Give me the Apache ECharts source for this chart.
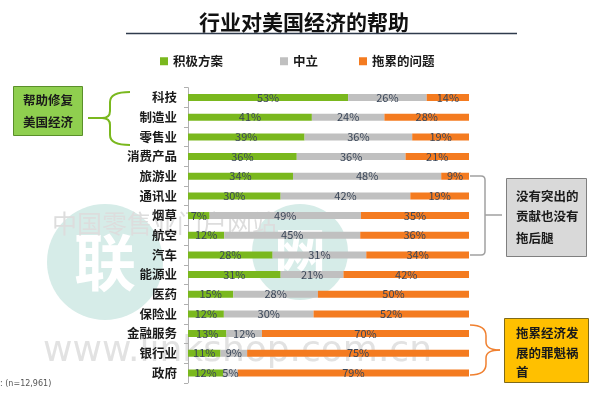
<!DOCTYPE html>
<html>
<head>
<meta charset="utf-8">
<script src="https://cdn.jsdelivr.net/npm/echarts@6/dist/echarts.min.js"></script>
<style>
html,body{margin:0;padding:0;background:#fff;}
#chart{width:600px;height:395px;}
</style>
</head>
<body>
<div id="chart"></div>
<script>
var categories = ['科技','制造业','零售业','消费产品','旅游业','通讯业','烟草','航空','汽车','能源业','医药','保险业','金融服务','银行业','政府'];
var positive = [53,41,39,36,34,30,7,12,28,31,15,12,13,11,12];
var neutral  = [26,24,36,36,48,42,49,45,31,21,28,30,12,9,5];
var negative = [14,28,19,21,9,19,35,36,34,42,50,52,70,75,79];
var seriesNames = ['积极方案','中立','拖累的问题'];

var raw = [positive, neutral, negative];
var totals = categories.map(function(c, i){ return positive[i] + neutral[i] + negative[i]; });
var colors = ['#7ab81e','#c0c0c0','#f47b20'];
var FONT = '"Noto Sans CJK SC","Noto Sans",sans-serif';

var chart = echarts.init(document.getElementById('chart'), null, {renderer:'canvas'});

var series = raw.map(function(arr, si){
  return {
    name: seriesNames[si],
    type: 'bar',
    stack: 'total',
    barWidth: 7,
    itemStyle: {color: colors[si]},
    data: arr.map(function(v, i){ return v / totals[i] * 100; }),
    label: {
      show: true,
      position: 'inside',
      color: '#3a4658',
      fontSize: 11,
      fontFamily: FONT,
      formatter: function(p){ return raw[si][p.dataIndex] + '%'; }
    }
  };
});

function legendItem(name, left){
  return {
    data: [name],
    left: left,
    top: 55,
    padding: 0,
    icon: 'rect',
    itemWidth: 8,
    itemHeight: 8,
    selectedMode: false,
    textStyle: {fontSize: 12.5, fontWeight: 'bold', color: '#1a1a1a', fontFamily: FONT}
  };
}

function seg(x1, y1, x2, y2, color, w){
  return {type:'line', shape:{x1:x1, y1:y1, x2:x2, y2:y2}, style:{stroke:color, lineWidth:w}};
}
function curve(x1, y1, cx, cy, x2, y2, color, w){
  return {type:'bezierCurve', shape:{x1:x1, y1:y1, x2:x2, y2:y2, cpx1:cx, cpy1:cy}, style:{stroke:color, lineWidth:w, fill:null}};
}
function txt(x, y, s, align){
  return {type:'text', x:x, y:y, style:{text:s, fill:'#1a1a1a', font:'bold 12.5px ' + FONT, align:align || 'left', verticalAlign:'middle'}};
}

var G = '#7ab81e', GR = '#a0a0a0', OR = '#f08030';
var graphics = [
  // watermark
  {type:'circle', z:-10, shape:{cx:105, cy:262, r:58}, style:{fill:'#d6ece8'}},
  {type:'text', z:-9, x:105, y:262, style:{text:'联', fill:'#ffffff', font:'bold 62px ' + FONT, align:'center', verticalAlign:'middle'}},
  {type:'circle', z:-10, shape:{cx:300, cy:252, r:48}, style:{fill:'#d6ece8'}},
  {type:'text', z:-9, x:300, y:252, style:{text:'网', fill:'#ffffff', font:'bold 52px ' + FONT, align:'center', verticalAlign:'middle'}},
  {type:'text', z:-9, x:52, y:223, style:{text:'中国零售业门户网站', fill:'#dddddd', font:'25px ' + FONT, verticalAlign:'middle'}},
  {type:'text', z:-9, x:43, y:352, style:{text:'www.linkshop.com.cn', fill:'#e2e2e2', font:'36px "DejaVu Sans",sans-serif', verticalAlign:'middle'}},
  // title
  {type:'text', x:304, y:22, style:{text:'行业对美国经济的帮助', fill:'#111', font:'bold 21px ' + FONT, align:'center', verticalAlign:'middle'}},
  seg(126, 33.5, 517, 33.5, '#2f3b4c', 1.5),
  // green box and brace
  {type:'rect', shape:{x:13.5, y:86.5, width:69, height:49}, style:{fill:'#8fcf4f', stroke:'#5a8f2a', lineWidth:1}},
  txt(48, 100, '帮助修复', 'center'),
  txt(48, 122, '美国经济', 'center'),
  curve(130, 92, 110, 92, 110, 102, G, 2),
  seg(110, 102, 110, 111, G, 2),
  curve(110, 111, 110, 118, 102, 118, G, 2),
  seg(102, 118, 88, 118, G, 2),
  curve(102, 118, 110, 118, 110, 125, G, 2),
  seg(110, 125, 110, 135, G, 2),
  curve(110, 135, 110, 145, 130, 145, G, 2),
  // gray box and bracket
  {type:'rect', shape:{x:506.5, y:178.5, width:80, height:78}, style:{fill:'#d9d9d9', stroke:'#7f7f7f', lineWidth:1}},
  txt(516, 196, '没有突出的'),
  txt(516, 216, '贡献也没有'),
  txt(516, 238, '拖后腿'),
  seg(470, 176, 481, 176, GR, 1.5),
  curve(481, 176, 485, 176, 485, 180, GR, 1.5),
  seg(485, 180, 485, 251, GR, 1.5),
  curve(485, 251, 485, 255, 481, 255, GR, 1.5),
  seg(481, 255, 470, 255, GR, 1.5),
  seg(485, 215, 502, 215, GR, 1.5),
  // orange box and brace
  {type:'rect', shape:{x:504.5, y:318.5, width:84, height:64}, style:{fill:'#ffc000', stroke:'#7f6a1a', lineWidth:1}},
  txt(516, 333, '拖累经济发'),
  txt(516, 353, '展的罪魁祸'),
  txt(516, 372, '首'),
  curve(470, 325, 486, 325, 486, 336, OR, 1.5),
  seg(486, 336, 486, 342, OR, 1.5),
  curve(486, 342, 486, 350, 500, 350, OR, 1.5),
  curve(500, 350, 486, 350, 486, 358, OR, 1.5),
  seg(486, 358, 486, 364, OR, 1.5),
  curve(486, 364, 486, 375, 470, 375, OR, 1.5),
  // footnote
  {type:'text', x:0, y:384, style:{text:': (n=12,961)', fill:'#555', font:'8px "DejaVu Sans",sans-serif', verticalAlign:'middle'}}
];

var option = {
  animation: false,
  backgroundColor: '#fff',
  legend: [legendItem('积极方案', 160), legendItem('中立', 280), legendItem('拖累的问题', 359)],
  grid: {left: 188, right: 131, top: 87.7, bottom: 12.2, containLabel: false},
  xAxis: {type: 'value', min: 0, max: 100, show: false},
  yAxis: {
    type: 'category',
    data: categories,
    inverse: true,
    axisLine: {show: true, lineStyle: {color: '#b0b0b0', width: 1}},
    axisTick: {show: true, length: 4, lineStyle: {color: '#b0b0b0'}},
    axisLabel: {margin: 11, fontSize: 12.5, fontWeight: 'bold', color: '#1a1a1a', fontFamily: FONT}
  },
  series: series,
  graphic: graphics
};
chart.setOption(option);
</script>
</body>
</html>
